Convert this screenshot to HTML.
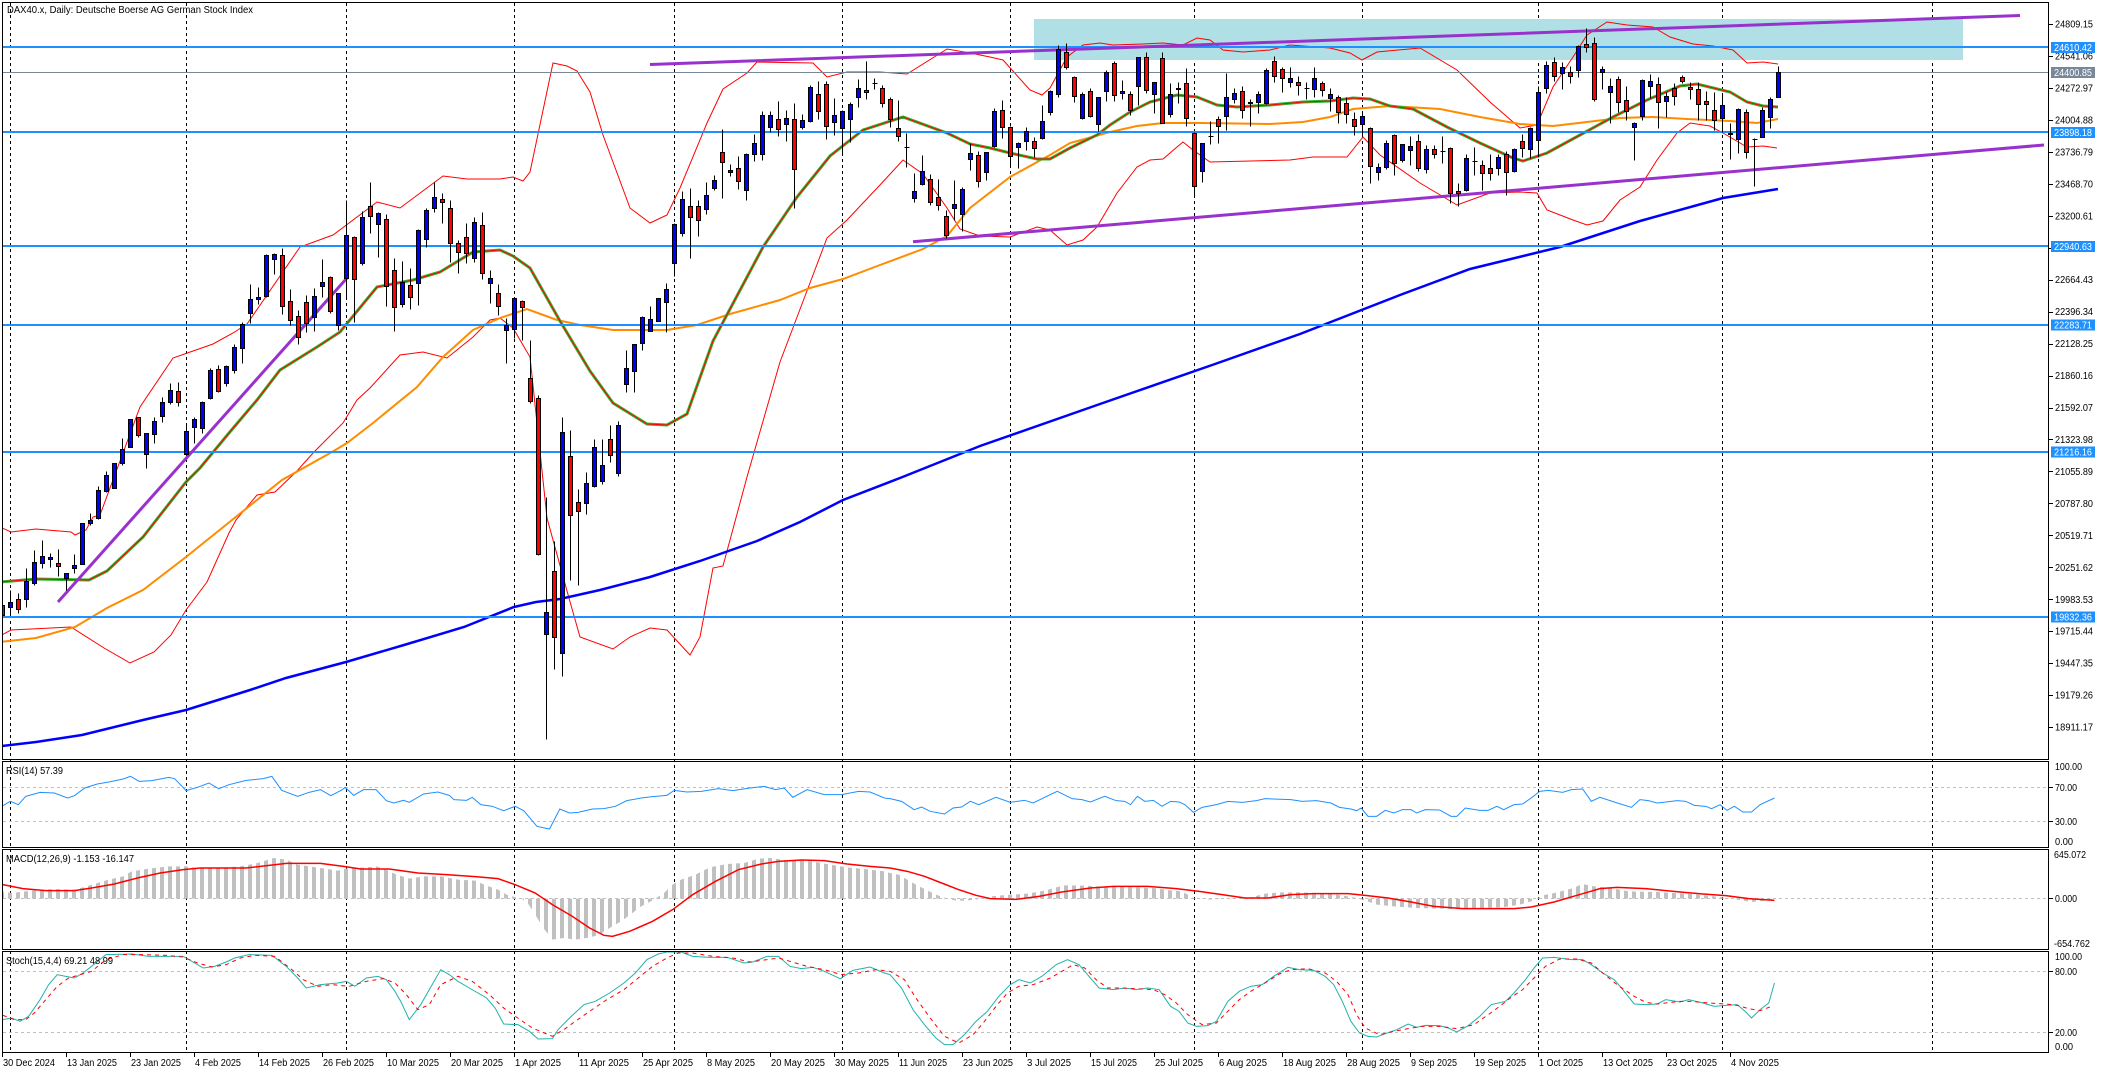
<!DOCTYPE html>
<html><head><meta charset="utf-8"><style>
html,body{margin:0;padding:0;background:#fff;}
svg{display:block;font-family:"Liberation Sans",Arial,sans-serif;}
.t{font-size:10px;fill:#000;}
.w{font-size:10px;fill:#fff;}
</style></head><body>
<svg xmlns="http://www.w3.org/2000/svg" width="2106" height="1073" viewBox="0 0 2106 1073">
<defs>
<clipPath id="cm"><rect x="3" y="3" width="2045" height="756"/></clipPath>
<pattern id="hp" width="8" height="20" patternUnits="userSpaceOnUse"><rect x="0" y="0" width="4" height="20" fill="#c0c0c0"/></pattern>
<clipPath id="mh" clipPathUnits="userSpaceOnUse"><polygon transform="matrix(0.57241 0 0 0.33333 0 758)" points="5,422 5,400 20,405 45,400 70,395 95,393 130,395 145,388 170,375 190,365 215,355 230,340 260,332 295,325 325,325 345,330 380,330 420,325 450,315 478,300 500,305 520,320 560,330 590,338 610,330 640,328 658,325 675,335 690,348 715,362 740,355 770,355 800,365 830,368 850,383 870,395 885,410 895,415 910,422 920,430 935,470 950,512 965,545 985,540 1005,545 1025,540 1045,532 1065,510 1085,490 1105,465 1120,445 1135,432 1145,422 1160,405 1175,380 1190,365 1215,350 1240,328 1270,318 1300,315 1325,302 1345,300 1380,308 1420,310 1450,320 1480,328 1520,335 1545,340 1555,345 1570,350 1585,365 1600,380 1615,393 1635,410 1655,422 1670,428 1685,428 1705,425 1730,415 1765,410 1795,407 1825,398 1845,388 1860,382 1895,383 1935,387 1985,388 2015,390 2045,397 2065,400 2085,420 2115,425 2155,420 2185,418 2210,407 2235,403 2275,403 2300,405 2315,408 2335,410 2355,415 2370,420 2385,428 2405,440 2435,445 2475,450 2535,453 2555,452 2595,450 2625,448 2655,440 2675,430 2695,412 2715,405 2745,392 2765,378 2785,385 2815,390 2845,400 2895,402 2955,408 2995,415 3015,420 3035,425 3060,432 3085,428 3100,425 3100,422"/></clipPath>
</defs>
<rect width="2106" height="1073" fill="#fff"/>

<!-- vertical dashed separators -->
<path d="M10.5 3V1052M186.5 3V1052M346.5 3V1052M514.5 3V1052M674.5 3V1052M842.5 3V1052M1010.5 3V1052M1194.5 3V1052M1362.5 3V1052M1538.5 3V1052M1722.5 3V1052M1932.5 3V1052" stroke="#000" stroke-width="1" stroke-dasharray="3,3" fill="none"/>

<g clip-path="url(#cm)">
<rect x="1034" y="19" width="929" height="41" fill="#b0e0e6"/>
<!-- Bollinger upper -->
<polyline fill="none" stroke="#ff0000" stroke-width="1" points="0,527 11,532 36,529 71,532 75,535 86,530 93,517 100,515 140,407 173,358 213,344 233,333 247,324 300,247 333,235 377,202 400,208 443,176 467,179 500,179 513,177 523,181 530,172 553,63 567,66 577,71 590,92 603,135 630,208 650,223 667,215 680,188 707,123 723,89 747,73 757,62 813,63 827,77 847,72 880,72 907,74 947,49 970,53 990,57 1003,60 1030,90 1042,95 1050,88 1067,57 1083,45 1100,43 1113,45 1143,44 1163,43 1183,45 1197,38 1210,40 1223,50 1243,52 1270,50 1290,45 1330,48 1350,53 1362,60 1377,52 1420,48 1457,70 1490,102 1520,128 1537,125 1553,87 1573,57 1587,35 1607,22 1627,25 1653,27 1670,37 1693,44 1713,46 1733,50 1747,63 1763,62 1778,64"/>
<!-- Bollinger lower -->
<polyline fill="none" stroke="#ff0000" stroke-width="1" points="0,636 11,630 71,627 104,648 130,663 154,652 171,635 186,610 207,582 229,533 236,520 257,495 275,492 296,472 314,452 343,423 357,400 370,388 400,355 423,352 447,358 473,337 490,320 500,318 513,328 530,357 547,518 567,591 580,637 613,649 630,637 650,628 667,630 690,655 700,637 713,568 723,566 747,477 780,362 813,275 827,238 847,220 880,185 903,160 923,174 947,208 960,229 980,236 1010,237 1037,227 1050,230 1067,245 1083,240 1097,227 1117,193 1137,167 1150,160 1163,159 1177,147 1183,142 1193,150 1210,162 1290,160 1313,157 1347,157 1363,137 1380,155 1420,183 1457,205 1490,193 1520,192 1537,193 1547,210 1573,220 1587,225 1603,221 1620,200 1640,187 1657,160 1677,133 1690,123 1710,126 1723,133 1747,147 1763,146 1777,148"/>
<!-- MA200 -->
<polyline fill="none" stroke="#0000ff" stroke-width="2.5" points="2,746 36,742 82,735 143,720 186,710 250,690 286,678 346,662 404,645 464,627 514,607 536,602 560,599 600,590 650,577 700,561 757,541 800,522 843,500 900,478 980,446 1100,404 1215,364 1300,334 1400,295 1470,269 1560,247 1640,221 1723,198 1778,189"/>
<!-- MA50 -->
<polyline fill="none" stroke="#ff8c00" stroke-width="2" points="0,642 36,638 75,627 107,608 143,590 186,557 232,520 282,480 332,452 347,443 373,423 417,387 443,357 473,330 500,318 527,309 557,320 580,325 613,330 667,330 697,325 730,314 780,300 810,288 843,279 880,265 923,249 947,236 970,208 1010,177 1050,155 1070,143 1110,132 1137,126 1163,123 1203,123 1270,124 1303,122 1330,117 1353,109 1390,106 1440,109 1480,117 1520,124 1553,126 1587,122 1620,118 1653,117 1687,119 1730,121 1757,123 1778,119"/>
<!-- MA20 green + BB middle -->
<polyline fill="none" stroke="#32b432" stroke-width="3" points="0,582 36,579 89,580 107,571 143,537 186,482 200,468 229,433 257,400 280,370 317,347 340,332 377,287 413,280 440,272 473,252 500,250 513,256 530,268 560,321 590,371 613,403 647,424 667,425 687,414 713,341 763,247 797,197 830,156 863,130 903,117 947,133 970,144 990,148 1010,153 1037,159 1050,159 1070,148 1097,135 1110,125 1130,112 1150,102 1177,95 1197,97 1217,105 1237,107 1270,105 1303,102 1330,101 1353,98 1370,99 1390,106 1413,109 1447,127 1480,143 1513,158 1523,161 1547,153 1580,135 1613,117 1647,100 1680,86 1697,84 1730,92 1747,102 1763,106 1778,107"/>
<polyline fill="none" stroke="#ff0000" stroke-width="1" points="0,582 36,579 89,580 107,571 143,537 186,482 200,468 229,433 257,400 280,370 317,347 340,332 377,287 413,280 440,272 473,252 500,250 513,256 530,268 560,321 590,371 613,403 647,424 667,425 687,414 713,341 763,247 797,197 830,156 863,130 903,117 947,133 970,144 990,148 1010,153 1037,159 1050,159 1070,148 1097,135 1110,125 1130,112 1150,102 1177,95 1197,97 1217,105 1237,107 1270,105 1303,102 1330,101 1353,98 1370,99 1390,106 1413,109 1447,127 1480,143 1513,158 1523,161 1547,153 1580,135 1613,117 1647,100 1680,86 1697,84 1730,92 1747,102 1763,106 1778,107"/>
<!-- horizontal levels -->
<path d="M3 47H2048M3 132H2048M3 246H2048M3 325H2048M3 452H2048M3 617H2048" stroke="#1e90ff" stroke-width="2" fill="none"/>
<path d="M3 72.5H2048" stroke="#778899" stroke-width="1" fill="none"/>
<!-- purple trendlines -->
<path d="M58 602L347 278M650 64.5L2020 15.5M913 241.7L2044 145" stroke="#9932cc" stroke-width="3" fill="none"/>
<!-- candles -->
<g transform="translate(0.5,0.5)">
<path fill="none" stroke="#000" stroke-width="1" d="M2 603V617M10 590V615M18 593V613M26 568V607M34 550V585M42 540V568M50 553V567M58 549V576M66 573V590M74 554V573M82 523V564M90 513V525M98 486V519M106 471V492M114 463V488M122 438V465M130 419V447M138 417V437M146 433V468M154 417V443M162 397V422M170 383V404M178 382V406M186 423V455M194 417V443M202 401V433M210 368V399M218 365V392M226 365V386M234 344V373M242 322V363M250 284V323M258 287V304M266 254V297M274 253V274M282 248V314M290 289V325M298 310V344M306 295V332M314 288V331M322 259V297M330 276V313M338 293V330M346 200V298M354 236V322M362 211V265M370 182V233M378 212V257M386 214V306M394 258V331M402 261V307M410 268V309M418 229V305M426 208V247M434 182V212M442 193V223M450 200V262M458 240V273M466 223V263M474 217V262M482 212V279M490 270V303M498 284V315M506 318V363M514 297V338M522 300V340M530 340V403M538 395V555M546 497V739M554 541V669M562 417V676M570 430V580M578 489V585M586 472V514M594 439V487M602 439V484M610 425V462M618 421V476M626 350V392M634 344V392M642 316V350M650 306V331M658 298V321M666 283V332M674 223V276M682 191V236M690 188V258M698 200V236M706 182V214M714 175V190M722 129V198M730 164V176M738 156V189M746 153V200M754 134V161M762 111V160M770 111V132M778 101V136M786 110V141M794 103V208M802 114V129M810 85V122M818 81V119M826 81V139M834 98V135M842 110V153M850 102V142M858 79V107M866 61V99M874 78V89M882 85V107M890 97V127M898 100V141M906 133V167M914 173V202M922 155V185M930 174V205M938 179V210M946 210V238M954 180V220M962 187V231M970 143V170M978 151V187M986 152V180M994 108V147M1002 100V138M1010 126V167M1018 142V168M1026 127V150M1034 137V157M1042 105V139M1050 90V115M1058 45V97M1066 43V69M1074 76V102M1082 92V119M1090 88V117M1098 97V131M1106 70V101M1114 61V101M1122 80V99M1130 91V115M1138 57V105M1146 52V93M1154 82V113M1162 52V123M1170 83V117M1178 82V103M1186 68V126M1194 132V197M1202 143V182M1210 121V144M1218 116V143M1226 73V130M1234 88V103M1242 86V118M1250 99V126M1258 91V113M1266 68V104M1274 56V82M1282 67V92M1290 67V87M1298 76V95M1306 82V99M1314 67V97M1322 81V96M1330 88V111M1338 95V123M1346 97V123M1354 112V135M1362 113V135M1370 127V183M1378 163V180M1386 140V169M1394 134V175M1402 144V162M1410 136V165M1418 134V171M1426 145V173M1434 145V158M1442 136V163M1450 147V203M1458 183V206M1466 154V191M1474 147V175M1482 160V190M1490 154V180M1498 154V175M1506 151V195M1514 148V172M1522 134V157M1530 127V158M1538 86V157M1546 61V93M1554 57V81M1562 62V89M1570 66V83M1578 45V77M1586 28V52M1594 37V101M1602 66V89M1610 78V123M1618 76V112M1626 86V120M1634 122V160M1642 79V120M1650 74V98M1658 77V128M1666 92V117M1674 83V105M1682 75V83M1690 82V99M1698 82V120M1706 91V120M1714 92V130M1722 93V132M1730 123V159M1738 108V153M1746 109V158M1754 138V186M1762 107V137M1770 97V128M1778 66V97M872 83h5M904 147h5M1208 136h5M1304 88h5M1440 151h5M1472 161h5M1752 139h5"/>
<path fill="#0000ff" stroke="#000" stroke-width="1" d="M8 602h4v5h-4zM24 581h4v18h-4zM32 562h4v21h-4zM40 556h4v7h-4zM48 557h4v2h-4zM64 573h4v5h-4zM72 565h4v3h-4zM80 523h4v41h-4zM88 520h4v3h-4zM96 490h4v28h-4zM104 475h4v16h-4zM112 463h4v25h-4zM120 449h4v14h-4zM128 419h4v28h-4zM144 433h4v21h-4zM152 421h4v13h-4zM160 402h4v14h-4zM168 390h4v12h-4zM184 431h4v23h-4zM192 419h4v8h-4zM200 402h4v26h-4zM208 370h4v28h-4zM224 366h4v17h-4zM232 347h4v23h-4zM240 324h4v24h-4zM248 299h4v14h-4zM256 297h4v2h-4zM264 255h4v41h-4zM272 254h4v5h-4zM312 296h4v21h-4zM320 282h4v4h-4zM336 293h4v32h-4zM344 235h4v43h-4zM360 217h4v46h-4zM376 213h4v11h-4zM400 282h4v22h-4zM416 230h4v53h-4zM424 210h4v29h-4zM432 197h4v11h-4zM472 222h4v36h-4zM488 278h4v5h-4zM504 325h4v5h-4zM512 298h4v31h-4zM544 612h4v22h-4zM560 432h4v221h-4zM584 483h4v20h-4zM592 447h4v39h-4zM600 465h4v16h-4zM616 425h4v48h-4zM624 368h4v16h-4zM632 344h4v27h-4zM640 317h4v26h-4zM648 319h4v12h-4zM656 298h4v23h-4zM664 289h4v13h-4zM672 224h4v39h-4zM680 199h4v34h-4zM704 195h4v14h-4zM712 180h4v8h-4zM728 170h4v2h-4zM744 154h4v36h-4zM752 143h4v11h-4zM760 115h4v39h-4zM768 115h4v12h-4zM784 118h4v6h-4zM800 120h4v7h-4zM808 87h4v34h-4zM832 115h4v7h-4zM840 111h4v17h-4zM848 104h4v15h-4zM856 88h4v9h-4zM912 191h4v7h-4zM920 171h4v13h-4zM952 204h4v4h-4zM960 189h4v25h-4zM968 153h4v6h-4zM984 152h4v20h-4zM992 111h4v35h-4zM1016 143h4v4h-4zM1024 131h4v10h-4zM1040 121h4v17h-4zM1048 91h4v21h-4zM1056 49h4v45h-4zM1080 94h4v24h-4zM1096 97h4v27h-4zM1104 72h4v19h-4zM1120 91h4v2h-4zM1136 57h4v29h-4zM1152 82h4v12h-4zM1168 94h4v20h-4zM1176 88h4v1h-4zM1200 143h4v28h-4zM1224 97h4v19h-4zM1232 93h4v6h-4zM1248 102h4v1h-4zM1256 94h4v8h-4zM1264 70h4v33h-4zM1288 78h4v4h-4zM1312 78h4v11h-4zM1328 94h4v4h-4zM1360 116h4v8h-4zM1376 167h4v5h-4zM1384 143h4v24h-4zM1400 144h4v16h-4zM1408 146h4v4h-4zM1424 149h4v20h-4zM1464 158h4v32h-4zM1496 157h4v11h-4zM1512 149h4v22h-4zM1528 128h4v21h-4zM1536 92h4v48h-4zM1544 65h4v23h-4zM1560 67h4v6h-4zM1576 46h4v24h-4zM1600 69h4v3h-4zM1608 86h4v6h-4zM1632 123h4v4h-4zM1640 80h4v36h-4zM1648 81h4v5h-4zM1664 96h4v5h-4zM1720 105h4v13h-4zM1736 109h4v30h-4zM1760 110h4v27h-4zM1768 99h4v18h-4zM1776 72h4v25h-4z"/>
<path fill="#ff0000" stroke="#000" stroke-width="1" d="M0 605h4v10h-4zM16 599h4v10h-4zM56 563h4v3h-4zM136 417h4v18h-4zM176 391h4v11h-4zM216 369h4v22h-4zM280 255h4v51h-4zM288 301h4v19h-4zM296 316h4v21h-4zM304 302h4v21h-4zM328 277h4v34h-4zM352 237h4v42h-4zM368 206h4v10h-4zM384 219h4v67h-4zM392 270h4v37h-4zM408 285h4v12h-4zM440 199h4v3h-4zM448 208h4v35h-4zM456 243h4v9h-4zM464 237h4v16h-4zM480 225h4v48h-4zM496 293h4v13h-4zM520 301h4v6h-4zM528 378h4v23h-4zM536 398h4v156h-4zM552 571h4v66h-4zM568 456h4v59h-4zM576 502h4v9h-4zM608 439h4v16h-4zM688 206h4v11h-4zM696 206h4v14h-4zM720 152h4v10h-4zM736 168h4v13h-4zM776 119h4v10h-4zM792 119h4v50h-4zM816 94h4v17h-4zM824 84h4v42h-4zM864 90h4v2h-4zM880 88h4v15h-4zM888 99h4v20h-4zM896 128h4v8h-4zM928 179h4v23h-4zM936 197h4v8h-4zM944 216h4v19h-4zM976 155h4v26h-4zM1000 110h4v17h-4zM1008 127h4v29h-4zM1032 141h4v7h-4zM1064 52h4v15h-4zM1072 77h4v19h-4zM1088 91h4v25h-4zM1112 63h4v32h-4zM1128 94h4v16h-4zM1144 57h4v33h-4zM1160 58h4v65h-4zM1184 83h4v35h-4zM1192 133h4v53h-4zM1216 119h4v7h-4zM1240 91h4v19h-4zM1272 61h4v15h-4zM1280 69h4v9h-4zM1296 82h4v3h-4zM1320 83h4v7h-4zM1336 97h4v15h-4zM1344 103h4v11h-4zM1352 119h4v7h-4zM1368 128h4v38h-4zM1392 135h4v28h-4zM1416 141h4v27h-4zM1432 149h4v5h-4zM1448 148h4v45h-4zM1456 191h4v2h-4zM1480 165h4v8h-4zM1488 168h4v5h-4zM1504 154h4v18h-4zM1520 141h4v7h-4zM1552 62h4v14h-4zM1568 72h4v4h-4zM1584 44h4v3h-4zM1592 43h4v56h-4zM1616 79h4v23h-4zM1624 100h4v11h-4zM1656 84h4v18h-4zM1672 88h4v8h-4zM1680 77h4v4h-4zM1688 87h4v2h-4zM1696 89h4v15h-4zM1704 101h4v3h-4zM1712 110h4v10h-4zM1728 133h4v1h-4zM1744 112h4v40h-4z"/>
</g>
</g>

<!-- subpanel level lines -->
<path d="M3 787.5H2048M3 821.5H2048M3 898.5H2048M3 971.5H2048M3 1032.5H2048" stroke="#c0c0c0" stroke-width="1" stroke-dasharray="3,3" fill="none"/>

<!-- MACD histogram -->
<rect x="3" y="850" width="2045" height="99" fill="url(#hp)" clip-path="url(#mh)"/>

<g transform="matrix(0.57241 0 0 0.33333 0 758)" fill="none">
<!-- RSI -->
<polyline vector-effect="non-scaling-stroke" stroke="#1e90ff" stroke-width="1" points="5,143 18,130 32,140 45,115 70,103 95,105 118,120 130,113 148,90 170,78 190,72 215,63 228,55 243,70 265,68 295,58 305,62 318,85 325,98 345,88 365,75 382,92 400,80 430,67 460,62 475,55 492,97 520,115 540,103 560,95 578,113 598,95 603,88 618,112 635,95 657,95 675,128 688,135 705,127 715,133 740,108 765,102 785,112 793,125 815,127 825,118 840,140 860,145 880,158 900,145 915,158 938,205 960,213 978,153 995,165 1010,163 1035,153 1055,152 1075,145 1095,128 1120,120 1140,116 1165,112 1178,97 1200,102 1225,100 1255,92 1280,98 1310,90 1335,85 1355,95 1370,90 1385,118 1410,95 1440,110 1470,110 1500,100 1520,102 1545,120 1555,122 1575,130 1597,155 1610,147 1625,160 1650,168 1665,150 1680,147 1695,130 1710,140 1740,118 1765,133 1790,127 1805,135 1825,118 1847,100 1873,122 1890,125 1905,132 1930,115 1950,128 1965,130 1975,140 1987,115 2000,130 2015,127 2030,145 2045,130 2060,132 2070,140 2085,163 2100,148 2125,140 2145,130 2170,133 2195,128 2210,122 2255,125 2275,130 2300,128 2325,135 2340,148 2360,153 2370,158 2378,150 2390,175 2405,175 2420,157 2435,165 2450,155 2465,155 2475,165 2490,155 2515,156 2535,175 2545,175 2560,150 2585,157 2600,157 2615,145 2627,155 2645,140 2660,138 2675,120 2690,100 2705,97 2730,103 2745,95 2765,93 2780,130 2795,118 2820,132 2850,148 2865,125 2880,128 2895,135 2905,133 2930,128 2945,130 2960,142 2980,145 2990,152 3005,140 3017,157 3030,145 3045,162 3060,162 3075,140 3100,120"/>
<!-- MACD signal -->
<polyline vector-effect="non-scaling-stroke" stroke="#ff0000" stroke-width="1.5" points="5,380 40,392 80,398 130,398 160,390 200,378 240,360 280,345 320,335 350,330 430,330 500,316 560,316 600,325 630,333 680,333 730,345 780,350 830,356 870,362 900,380 935,405 965,440 1000,475 1030,510 1055,532 1070,535 1100,520 1140,490 1175,455 1210,410 1250,370 1290,335 1330,318 1360,310 1400,306 1440,308 1480,318 1520,325 1555,330 1585,340 1615,355 1645,375 1675,395 1705,412 1730,422 1775,424 1815,415 1855,402 1905,390 1945,385 2005,385 2055,392 2095,400 2135,410 2175,420 2215,420 2255,410 2295,407 2355,407 2385,412 2425,420 2465,432 2505,445 2555,452 2645,452 2675,447 2715,432 2755,412 2795,392 2825,388 2875,392 2935,402 2975,408 3015,413 3055,422 3100,427"/>
<!-- Stoch main -->
<polyline vector-effect="non-scaling-stroke" stroke="#20b2aa" stroke-width="1" points="5,785 20,780 35,790 50,775 70,725 85,680 100,650 115,655 130,660 145,645 160,625 185,590 230,588 260,595 290,595 320,595 335,610 355,630 375,625 395,612 410,600 435,590 475,592 500,625 520,660 535,690 560,680 590,675 605,670 620,685 640,660 660,655 675,665 690,700 700,730 715,785 735,740 755,680 770,635 785,650 800,670 820,690 850,720 865,750 880,798 905,800 925,820 940,843 965,842 975,815 995,780 1020,740 1040,730 1065,705 1090,675 1110,645 1130,605 1150,588 1165,582 1190,582 1210,595 1240,598 1270,598 1300,615 1315,612 1340,595 1360,595 1380,625 1400,632 1420,628 1440,640 1468,662 1490,637 1520,627 1545,645 1555,650 1575,690 1595,755 1615,800 1635,840 1650,860 1665,860 1685,830 1705,790 1725,760 1745,715 1765,680 1780,665 1800,675 1820,655 1845,620 1865,605 1885,620 1900,650 1920,690 1945,695 1965,690 1985,695 2005,690 2025,695 2045,745 2060,760 2075,795 2090,805 2110,803 2125,790 2145,730 2165,700 2185,685 2205,680 2225,655 2250,628 2270,635 2295,637 2315,655 2330,680 2345,730 2360,790 2375,825 2390,835 2405,837 2420,827 2440,815 2460,798 2475,808 2490,802 2515,803 2530,810 2545,822 2565,803 2585,775 2605,740 2630,730 2645,705 2665,665 2680,630 2695,600 2715,598 2745,605 2765,605 2780,620 2800,645 2820,665 2835,695 2855,738 2875,740 2895,738 2910,725 2935,732 2950,725 2975,735 2995,745 3015,742 3035,740 3050,762 3060,780 3075,755 3090,735 3100,675"/>
<!-- Stoch signal -->
<polyline vector-effect="non-scaling-stroke" stroke="#ff0000" stroke-width="1" stroke-dasharray="4,4" points="5,772 25,785 45,785 60,765 80,725 100,685 120,660 140,650 160,640 185,605 215,590 250,590 290,592 320,597 345,615 370,627 395,620 420,600 445,592 480,595 510,635 530,665 555,685 580,680 610,685 640,670 670,662 690,675 710,710 730,755 750,740 770,680 800,655 825,670 855,710 880,750 900,775 930,810 965,835 985,815 1005,790 1030,760 1060,725 1090,695 1115,660 1140,625 1165,600 1185,585 1210,585 1245,595 1280,600 1310,612 1340,605 1360,600 1380,610 1410,625 1440,635 1470,650 1500,645 1530,635 1555,640 1580,665 1600,720 1625,780 1650,835 1675,855 1700,830 1720,790 1740,745 1760,705 1780,685 1805,680 1835,660 1855,640 1875,620 1895,630 1915,665 1935,690 1955,690 1985,692 2015,695 2035,710 2055,735 2075,770 2100,800 2125,795 2145,760 2165,725 2185,700 2210,675 2235,648 2255,635 2285,632 2315,645 2335,670 2355,710 2370,770 2385,810 2410,830 2435,820 2460,812 2485,805 2515,805 2545,812 2575,800 2600,770 2620,745 2640,718 2660,695 2680,660 2700,625 2725,603 2755,603 2780,615 2800,645 2825,680 2855,715 2875,733 2895,738 2935,730 2955,730 2985,735 3015,738 3035,742 3055,752 3075,758 3095,745"/>
</g>

<!-- panel frames -->
<g fill="none" stroke="#000" stroke-width="1">
<rect x="2.5" y="2.5" width="2046" height="757"/>
<rect x="2.5" y="761.5" width="2046" height="86"/>
<rect x="2.5" y="849.5" width="2046" height="100"/>
<rect x="2.5" y="951.5" width="2046" height="101"/>
<path d="M2049 24.5h4M2049 56.5h4M2049 88.5h4M2049 120.5h4M2049 152.5h4M2049 184.5h4M2049 216.5h4M2049 248.5h4M2049 280.5h4M2049 312.5h4M2049 344.5h4M2049 376.5h4M2049 408.5h4M2049 439.5h4M2049 471.5h4M2049 503.5h4M2049 535.5h4M2049 567.5h4M2049 599.5h4M2049 631.5h4M2049 663.5h4M2049 695.5h4M2049 727.5h4M2049 787.5h4M2049 821.5h4M2049 898.5h4M2049 971.5h4M2049 1032.5h4"/>
<path d="M2.5 1053v4M66.5 1053v4M130.5 1053v4M194.5 1053v4M258.5 1053v4M322.5 1053v4M386.5 1053v4M450.5 1053v4M514.5 1053v4M578.5 1053v4M642.5 1053v4M706.5 1053v4M770.5 1053v4M834.5 1053v4M898.5 1053v4M962.5 1053v4M1026.5 1053v4M1090.5 1053v4M1154.5 1053v4M1218.5 1053v4M1282.5 1053v4M1346.5 1053v4M1410.5 1053v4M1474.5 1053v4M1538.5 1053v4M1602.5 1053v4M1666.5 1053v4M1730.5 1053v4"/>
</g>

<!-- header & panel labels -->
<text class="t" x="7" y="13" textLength="246" lengthAdjust="spacingAndGlyphs">DAX40.x, Daily:  Deutsche Boerse AG German Stock Index</text>
<text class="t" x="6" y="774" textLength="57" lengthAdjust="spacingAndGlyphs">RSI(14) 57.39</text>
<text class="t" x="6" y="862" textLength="128" lengthAdjust="spacingAndGlyphs">MACD(12,26,9) -1.153 -16.147</text>
<text class="t" x="6" y="964" textLength="107" lengthAdjust="spacingAndGlyphs">Stoch(15,4,4) 69.21 48.99</text>

<!-- price axis labels -->
<g class="t">
<text class="t" x="2055" y="27.5" textLength="38" lengthAdjust="spacingAndGlyphs">24809.15</text>
<text class="t" x="2055" y="59.5" textLength="38" lengthAdjust="spacingAndGlyphs">24541.06</text>
<text class="t" x="2055" y="91.5" textLength="38" lengthAdjust="spacingAndGlyphs">24272.97</text>
<text class="t" x="2055" y="123.5" textLength="38" lengthAdjust="spacingAndGlyphs">24004.88</text>
<text class="t" x="2055" y="155.5" textLength="38" lengthAdjust="spacingAndGlyphs">23736.79</text>
<text class="t" x="2055" y="187.5" textLength="38" lengthAdjust="spacingAndGlyphs">23468.70</text>
<text class="t" x="2055" y="219.5" textLength="38" lengthAdjust="spacingAndGlyphs">23200.61</text>
<text class="t" x="2055" y="283" textLength="38" lengthAdjust="spacingAndGlyphs">22664.43</text>
<text class="t" x="2055" y="315" textLength="38" lengthAdjust="spacingAndGlyphs">22396.34</text>
<text class="t" x="2055" y="347" textLength="38" lengthAdjust="spacingAndGlyphs">22128.25</text>
<text class="t" x="2055" y="379" textLength="38" lengthAdjust="spacingAndGlyphs">21860.16</text>
<text class="t" x="2055" y="411" textLength="38" lengthAdjust="spacingAndGlyphs">21592.07</text>
<text class="t" x="2055" y="443" textLength="38" lengthAdjust="spacingAndGlyphs">21323.98</text>
<text class="t" x="2055" y="475" textLength="38" lengthAdjust="spacingAndGlyphs">21055.89</text>
<text class="t" x="2055" y="507" textLength="38" lengthAdjust="spacingAndGlyphs">20787.80</text>
<text class="t" x="2055" y="539" textLength="38" lengthAdjust="spacingAndGlyphs">20519.71</text>
<text class="t" x="2055" y="571" textLength="38" lengthAdjust="spacingAndGlyphs">20251.62</text>
<text class="t" x="2055" y="603" textLength="38" lengthAdjust="spacingAndGlyphs">19983.53</text>
<text class="t" x="2055" y="634.5" textLength="38" lengthAdjust="spacingAndGlyphs">19715.44</text>
<text class="t" x="2055" y="666.5" textLength="38" lengthAdjust="spacingAndGlyphs">19447.35</text>
<text class="t" x="2055" y="698.5" textLength="38" lengthAdjust="spacingAndGlyphs">19179.26</text>
<text class="t" x="2055" y="730.5" textLength="38" lengthAdjust="spacingAndGlyphs">18911.17</text>
</g>
<!-- level label boxes -->
<rect x="2051" y="42" width="44" height="11" fill="#1e90ff"/>
<text class="w" x="2054" y="51" textLength="38" lengthAdjust="spacingAndGlyphs">24610.42</text>
<rect x="2051" y="67" width="44" height="11" fill="#778899"/>
<text class="w" x="2054" y="76" textLength="38" lengthAdjust="spacingAndGlyphs">24400.85</text>
<rect x="2051" y="127" width="44" height="11" fill="#1e90ff"/>
<text class="w" x="2054" y="136" textLength="38" lengthAdjust="spacingAndGlyphs">23898.18</text>
<rect x="2051" y="241" width="44" height="11" fill="#1e90ff"/>
<text class="w" x="2054" y="250" textLength="38" lengthAdjust="spacingAndGlyphs">22940.63</text>
<rect x="2051" y="319.5" width="44" height="11" fill="#1e90ff"/>
<text class="w" x="2054" y="328.5" textLength="38" lengthAdjust="spacingAndGlyphs">22283.71</text>
<rect x="2051" y="446.5" width="44" height="11" fill="#1e90ff"/>
<text class="w" x="2054" y="455.5" textLength="38" lengthAdjust="spacingAndGlyphs">21216.16</text>
<rect x="2051" y="611.5" width="44" height="11" fill="#1e90ff"/>
<text class="w" x="2054" y="620.5" textLength="38" lengthAdjust="spacingAndGlyphs">19832.36</text>

<!-- subpanel axis labels -->
<text class="t" x="2055" y="770" textLength="27" lengthAdjust="spacingAndGlyphs">100.00</text>
<text class="t" x="2055" y="791" textLength="22" lengthAdjust="spacingAndGlyphs">70.00</text>
<text class="t" x="2055" y="825" textLength="22" lengthAdjust="spacingAndGlyphs">30.00</text>
<text class="t" x="2055" y="845" textLength="18" lengthAdjust="spacingAndGlyphs">0.00</text>
<text class="t" x="2054" y="858" textLength="32" lengthAdjust="spacingAndGlyphs">645.072</text>
<text class="t" x="2055" y="902" textLength="22" lengthAdjust="spacingAndGlyphs">0.000</text>
<text class="t" x="2054" y="947" textLength="36" lengthAdjust="spacingAndGlyphs">-654.762</text>
<text class="t" x="2055" y="960" textLength="27" lengthAdjust="spacingAndGlyphs">100.00</text>
<text class="t" x="2055" y="975" textLength="22" lengthAdjust="spacingAndGlyphs">80.00</text>
<text class="t" x="2055" y="1036" textLength="22" lengthAdjust="spacingAndGlyphs">20.00</text>
<text class="t" x="2055" y="1050" textLength="18" lengthAdjust="spacingAndGlyphs">0.00</text>

<!-- date labels -->
<g>
<text class="t" x="3" y="1066" textLength="52" lengthAdjust="spacingAndGlyphs">30 Dec 2024</text>
<text class="t" x="67" y="1066" textLength="50" lengthAdjust="spacingAndGlyphs">13 Jan 2025</text>
<text class="t" x="131" y="1066" textLength="50" lengthAdjust="spacingAndGlyphs">23 Jan 2025</text>
<text class="t" x="195" y="1066" textLength="46" lengthAdjust="spacingAndGlyphs">4 Feb 2025</text>
<text class="t" x="259" y="1066" textLength="51" lengthAdjust="spacingAndGlyphs">14 Feb 2025</text>
<text class="t" x="323" y="1066" textLength="51" lengthAdjust="spacingAndGlyphs">26 Feb 2025</text>
<text class="t" x="387" y="1066" textLength="52" lengthAdjust="spacingAndGlyphs">10 Mar 2025</text>
<text class="t" x="451" y="1066" textLength="52" lengthAdjust="spacingAndGlyphs">20 Mar 2025</text>
<text class="t" x="515" y="1066" textLength="46" lengthAdjust="spacingAndGlyphs">1 Apr 2025</text>
<text class="t" x="579" y="1066" textLength="50" lengthAdjust="spacingAndGlyphs">11 Apr 2025</text>
<text class="t" x="643" y="1066" textLength="50" lengthAdjust="spacingAndGlyphs">25 Apr 2025</text>
<text class="t" x="707" y="1066" textLength="48" lengthAdjust="spacingAndGlyphs">8 May 2025</text>
<text class="t" x="771" y="1066" textLength="54" lengthAdjust="spacingAndGlyphs">20 May 2025</text>
<text class="t" x="835" y="1066" textLength="54" lengthAdjust="spacingAndGlyphs">30 May 2025</text>
<text class="t" x="899" y="1066" textLength="48" lengthAdjust="spacingAndGlyphs">11 Jun 2025</text>
<text class="t" x="963" y="1066" textLength="50" lengthAdjust="spacingAndGlyphs">23 Jun 2025</text>
<text class="t" x="1027" y="1066" textLength="44" lengthAdjust="spacingAndGlyphs">3 Jul 2025</text>
<text class="t" x="1091" y="1066" textLength="46" lengthAdjust="spacingAndGlyphs">15 Jul 2025</text>
<text class="t" x="1155" y="1066" textLength="48" lengthAdjust="spacingAndGlyphs">25 Jul 2025</text>
<text class="t" x="1219" y="1066" textLength="48" lengthAdjust="spacingAndGlyphs">6 Aug 2025</text>
<text class="t" x="1283" y="1066" textLength="53" lengthAdjust="spacingAndGlyphs">18 Aug 2025</text>
<text class="t" x="1347" y="1066" textLength="53" lengthAdjust="spacingAndGlyphs">28 Aug 2025</text>
<text class="t" x="1411" y="1066" textLength="46" lengthAdjust="spacingAndGlyphs">9 Sep 2025</text>
<text class="t" x="1475" y="1066" textLength="51" lengthAdjust="spacingAndGlyphs">19 Sep 2025</text>
<text class="t" x="1539" y="1066" textLength="44" lengthAdjust="spacingAndGlyphs">1 Oct 2025</text>
<text class="t" x="1603" y="1066" textLength="50" lengthAdjust="spacingAndGlyphs">13 Oct 2025</text>
<text class="t" x="1667" y="1066" textLength="50" lengthAdjust="spacingAndGlyphs">23 Oct 2025</text>
<text class="t" x="1731" y="1066" textLength="48" lengthAdjust="spacingAndGlyphs">4 Nov 2025</text>
</g>
</svg>
</body></html>
